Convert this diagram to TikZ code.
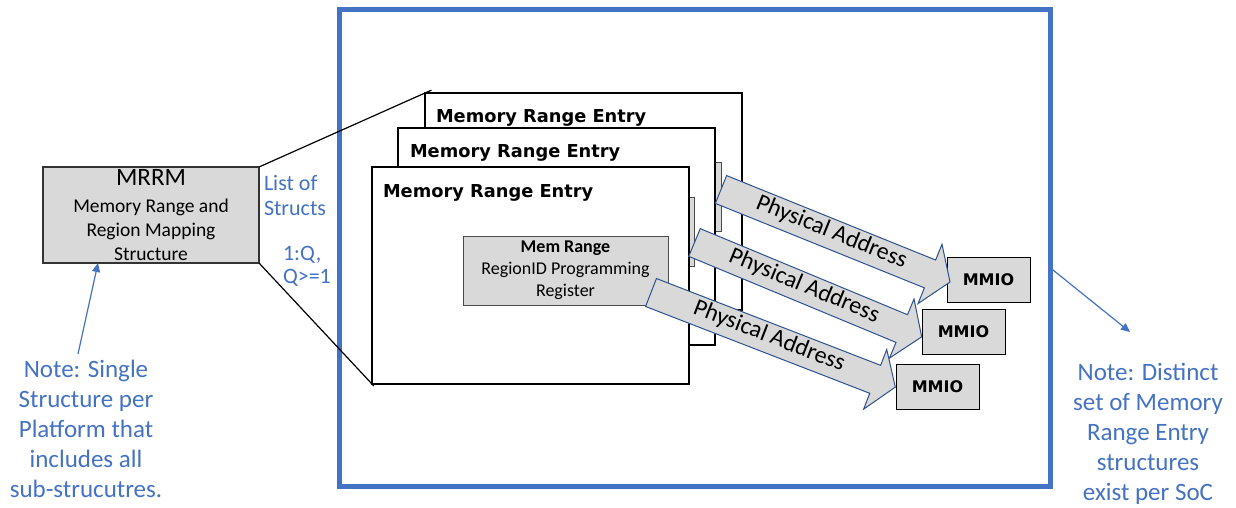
\documentclass[tikz,border=0pt]{standalone}
\usepackage{fontspec}
\setmainfont{Carlito}
\newfontfamily\widefont{DejaVu Sans}
\usetikzlibrary{shapes.arrows,arrows.meta}
\definecolor{obl}{HTML}{4472C4}
\definecolor{lg}{HTML}{D9D9D9}
\definecolor{adk}{HTML}{2F528F}
\begin{document}
\begin{tikzpicture}[x=1pt,y=-1pt,
  every node/.style={outer sep=0pt},
  card/.style={draw=black, line width=1.2pt, fill=white, minimum width=317pt, minimum height=217pt, anchor=north west, inner sep=0pt},
  cardtitle/.style={anchor=base west, inner sep=0pt, font=\widefont\bfseries\fontsize{17.8}{20}\selectfont},
  membox/.style={draw=black!70, line width=1pt, fill=lg, minimum width=205pt, minimum height=69pt, anchor=north west, inner sep=0pt, align=center, font=\fontsize{18}{22}\selectfont},
  mmio/.style={draw=black, line width=1pt, fill=lg, minimum width=83pt, minimum height=45pt, anchor=north west, inner sep=0pt, font=\widefont\bfseries\fontsize{16}{18}\selectfont},
  pa/.style={single arrow, draw=adk, line width=1pt, fill=lg, anchor=tail, single arrow head extend=17pt, single arrow tip angle=112, text height=14pt, text depth=5pt, inner ysep=5pt, inner xsep=0pt, font=\fontsize{24}{26}\selectfont},
  note/.style={text=obl, align=center, font=\fontsize{25}{30}\selectfont, inner sep=0pt},
  bluetext/.style={text=obl, inner sep=0pt, anchor=base west, font=\fontsize{22}{25}\selectfont},
  link/.style={draw=black, line width=1.2pt},
  callout/.style={draw=obl, line width=1.2pt, -{Triangle[length=9pt,width=8pt]}}
]
\useasboundingbox (0,0) rectangle (1236,508);
\fill[white] (0,0) rectangle (1236,508);

% SoC box
\node[draw=obl, line width=4.5pt, minimum width=711pt, minimum height=477pt, anchor=north west, inner sep=0pt] (soc) at (339.5,9.5) {};

% MRRM
\node[draw=black!80, line width=1.2pt, fill=lg, minimum width=216pt, minimum height=96pt, anchor=north west, inner sep=0pt] (mrrm) at (43,167) {};
\node[anchor=base, inner sep=0pt, font=\fontsize{25}{28}\selectfont] (mrrmt) at (151,185) {MRRM};
\node[anchor=base, inner sep=0pt, align=center, font=\fontsize{19.5}{24}\selectfont] (mrrmd) at (151,260) {Memory Range and\\Region Mapping\\Structure};

\node[bluetext] (lst1) at (264,190) {List of};
\node[bluetext] (lst2) at (264,215) {Structs};
\node[bluetext] (q1) at (283,260) {1:Q,};
\node[bluetext] (q2) at (283,283) {Q>=1};

% cards
\node[card] (c3) at (425,93) {};
\node[membox] (mb3) at (516,162) {};
\node[cardtitle] (t3) at (436,123) {Memory Range Entry};
\node[card] (c2) at (398,128) {};
\node[membox] (mb2) at (489,197) {};
\node[cardtitle] (t2) at (410,157.5) {Memory Range Entry};
\node[card] (c1) at (372,167) {};
\node[membox] (mb1) at (463,236) {{\bfseries Mem Range}\\RegionID Programming\\Register};
\node[cardtitle] (t1) at (383,197) {Memory Range Entry};

% zoom lines
\draw[link, shorten >=-7pt] (mrrm.north east) -- (c3.north west);
\draw[link, shorten >=-3pt] (mrrm.south east) -- (c1.south west);

% MMIO
\node[mmio] (m1) at (947,257) {MMIO};
\node[mmio] (m2) at (922,309) {MMIO};
\node[mmio] (m3) at (896,364) {MMIO};

% physical address arrows
\node[pa, rotate=-22.0, minimum height=247pt] (pa3) at (721,189.5) {Physical Address};
\node[pa, rotate=-22.55, minimum height=246pt] (pa2) at (694.5,242.5) {Physical Address};
\node[pa, rotate=-21.17, minimum height=262pt] (pa1) at (651,292.5) {Physical Address};

% notes
\node[note, anchor=base] (n1) at (86,497) {Note: Single\\Structure per\\Platform that\\includes all\\sub-strucutres.};
\node[note, anchor=base] (n2) at (1148,500) {Note: Distinct\\set of Memory\\Range Entry\\structures\\exist per SoC};

\coordinate (c1s) at (78,354);
\coordinate (c2e) at (1130,332);
\draw[callout] (c1s) -- ([xshift=55pt]mrrm.south west);
\draw[callout] ([yshift=-20pt]soc.east) -- (c2e);
\end{tikzpicture}
\end{document}
